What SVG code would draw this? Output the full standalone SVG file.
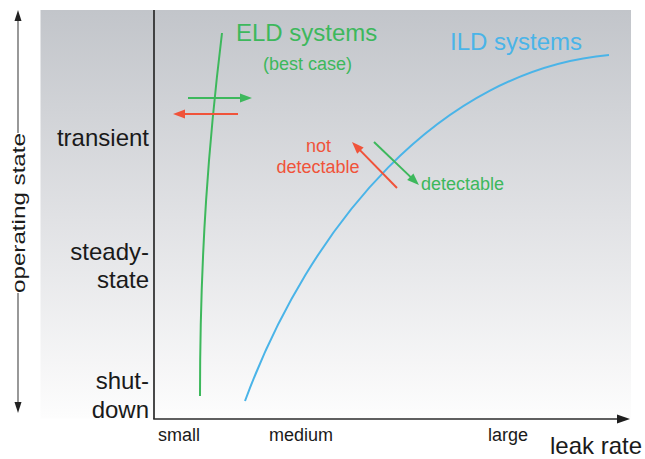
<svg xmlns="http://www.w3.org/2000/svg" width="645" height="459" viewBox="0 0 645 459">
  <defs>
    <linearGradient id="bg" x1="0" y1="0" x2="0" y2="1">
      <stop offset="0" stop-color="#c2c5ca"/>
      <stop offset="0.5" stop-color="#e0e1e4"/>
      <stop offset="1" stop-color="#fdfdfd"/>
    </linearGradient>
    <marker id="head-green" markerUnits="userSpaceOnUse" markerWidth="14" markerHeight="10" viewBox="-1 -5 14 10" refX="0" refY="0" orient="auto" overflow="visible">
      <path d="M-1,-4.5 L11,0 L-1,4.5 z" fill="#3db85c"/>
    </marker>
    <marker id="head-red" markerUnits="userSpaceOnUse" markerWidth="14" markerHeight="10" viewBox="-1 -5 14 10" refX="0" refY="0" orient="auto" overflow="visible">
      <path d="M-1,-4.5 L11,0 L-1,4.5 z" fill="#f0533a"/>
    </marker>
    <marker id="head-axis" markerUnits="userSpaceOnUse" markerWidth="14" markerHeight="10" viewBox="-1 -5 14 10" refX="0" refY="0" orient="auto" overflow="visible">
      <path d="M-1,-4.5 L12,0 L-1,4.5 z" fill="#1e1e1e"/>
    </marker>
    <marker id="head-thin" markerUnits="userSpaceOnUse" markerWidth="12" markerHeight="8" viewBox="-1 -4 12 8" refX="0" refY="0" orient="auto" overflow="visible">
      <path d="M-1,-3.5 L10,0 L-1,3.5 z" fill="#222"/>
    </marker>
  </defs>
  <style>
    text { font-family: "Liberation Sans", Arial, Helvetica, sans-serif; }
    .lbl { font-size: 24px; fill: #1a1a1a; }
    .tick { font-size: 18px; fill: #1a1a1a; }
    .green { fill: #3db85c; }
    .red { fill: #f0533a; }
    .blue { fill: #4ab4e8; }
    .axis { stroke: #2a2a2a; stroke-width: 1.7; fill: none; }
    .curve { fill: none; stroke-width: 2; }
  </style>

  <!-- plot background -->
  <rect x="40.5" y="10" width="590.5" height="408.5" fill="url(#bg)"/>

  <!-- axes -->
  <g id="axes">
    <line class="axis" x1="154" y1="10" x2="154" y2="419"/>
    <line class="axis" x1="153.2" y1="419" x2="618" y2="419" marker-end="url(#head-axis)"/>
  </g>

  <!-- operating state axis (vertical, both directions) -->
  <g id="operating-state">
    <line x1="18" y1="133" x2="18" y2="20" stroke="#444" stroke-width="1.1" marker-end="url(#head-thin)"/>
    <line x1="18" y1="293" x2="18" y2="403" stroke="#444" stroke-width="1.1" marker-end="url(#head-thin)"/>
    <text transform="translate(24.5,213) rotate(-90)" text-anchor="middle" style="font-size:18px" fill="#1a1a1a" textLength="160" lengthAdjust="spacingAndGlyphs">operating state</text>
  </g>

  <!-- state labels -->
  <g id="state-labels" text-anchor="end">
    <text class="lbl" x="149" y="146">transient</text>
    <text class="lbl" x="149" y="260">steady-</text>
    <text class="lbl" x="149" y="288">state</text>
    <text class="lbl" x="149" y="389">shut-</text>
    <text class="lbl" x="149" y="418">down</text>
  </g>

  <!-- leak rate labels -->
  <g id="rate-labels">
    <text class="tick" x="158" y="440.5">small</text>
    <text class="tick" x="269" y="440.5">medium</text>
    <text class="tick" x="488" y="440.5">large</text>
    <text class="lbl" x="550" y="454">leak rate</text>
  </g>

  <!-- ELD curve -->
  <g id="eld">
    <path class="curve" stroke="#3db85c" d="M222,33 C209,140 200,250 200,396"/>
    <text class="green" x="236" y="41" style="font-size:24px">ELD systems</text>
    <text class="green" x="263" y="70" style="font-size:18px">(best case)</text>
  </g>

  <!-- ILD curve -->
  <g id="ild">
    <path class="curve" stroke="#4ab4e8" d="M245,401 C310,225 440,70 609,55"/>
    <text class="blue" x="450" y="50" style="font-size:24px">ILD systems</text>
  </g>

  <!-- detection direction arrows -->
  <g id="connectors">
    <line x1="188" y1="98" x2="241" y2="98" stroke="#3db85c" stroke-width="2" marker-end="url(#head-green)"/>
    <line x1="238" y1="114" x2="184" y2="114" stroke="#f0533a" stroke-width="2" marker-end="url(#head-red)"/>
    <line x1="374" y1="142" x2="411" y2="177.4" stroke="#3db85c" stroke-width="2" marker-end="url(#head-green)"/>
    <line x1="397" y1="188" x2="359.7" y2="149.9" stroke="#f0533a" stroke-width="2" marker-end="url(#head-red)"/>
  </g>

  <!-- detection labels -->
  <g id="detect-labels" style="font-size:18px">
    <text class="red" x="318.5" y="152" text-anchor="middle" style="font-size:18px">not</text>
    <text class="red" x="318" y="173" text-anchor="middle" style="font-size:18px">detectable</text>
    <text class="green" x="421" y="190" style="font-size:18px">detectable</text>
  </g>
</svg>
